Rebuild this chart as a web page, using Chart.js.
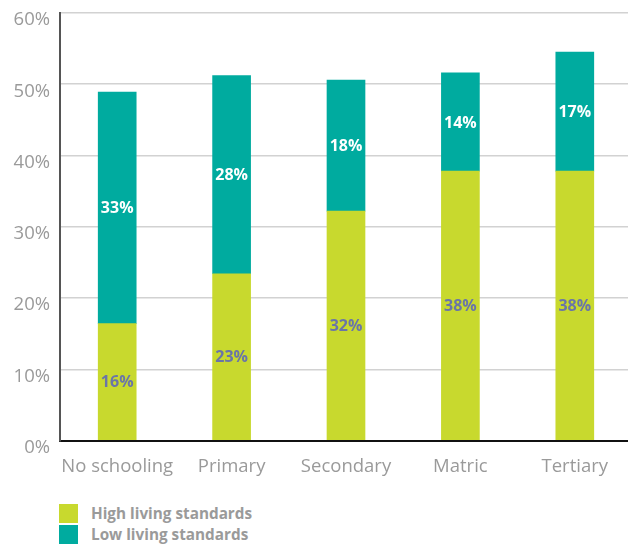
<!DOCTYPE html>
<html>
<head>
<meta charset="utf-8">
<script src="https://cdn.jsdelivr.net/npm/chart.js@4/dist/chart.umd.min.js"></script>
<style>
  html, body { margin: 0; padding: 0; background: #fff; overflow: hidden; width: 628px; height: 544px; }
  #wrap { position: relative; width: 628px; height: 544px; }
  #chart { position: absolute; left: 0; top: 0; }
  .legend { position: absolute; left: 59px; font-family: "Open Sans", sans-serif; font-weight: bold; font-size: 15.3px; color: #9a9a9a; }
  .legend div { position: relative; height: 21px; line-height: 21px; padding-left: 32px; }
  .legend span { position: absolute; left: 0; top: 1px; width: 19px; height: 19px; }
</style>
</head>
<body>
<div id="wrap">
  <canvas id="chart" width="632" height="490"></canvas>
  <div class="legend" style="top:503px">
    <div><span style="background:#c8d92e"></span>High living standards</div>
    <div><span style="background:#00ab9f"></span>Low living standards</div>
  </div>
</div>
<script>
var categories = ['No schooling', 'Primary', 'Secondary', 'Matric', 'Tertiary'];
var highLiving = [16.4, 23.4, 32.2, 37.8, 37.8];
var lowLiving = [32.5, 27.8, 18.4, 13.8, 16.7];
var yTicks = [0, 10, 20, 30, 40, 50, 60];

var greenCol = '#c8d92e';
var tealCol = '#00ab9f';

// draw the % values in the middle of each segment
var segmentLabels = {
    id: 'segmentLabels',
    afterDatasetsDraw: function(chart){
        var ctx = chart.ctx;
        ctx.save();
        ctx.font = 'bold 16px "Open Sans"';
        ctx.textAlign = 'center';
        ctx.textBaseline = 'middle';
        chart.data.datasets.forEach(function(ds, i){
            var meta = chart.getDatasetMeta(i);
            ctx.fillStyle = i === 0 ? '#6a75a8' : '#ffffff';
            meta.data.forEach(function(bar, j){
                var y = (bar.y + bar.base) / 2;
                ctx.fillText(Math.round(ds.data[j]) + '%', bar.x, y + 1);
            });
        });
        ctx.restore();
    }
};

var chart = new Chart(document.getElementById('chart').getContext('2d'), {
    type: 'bar',
    data: {
        labels: categories,
        datasets: [
            {label: 'High living standards', data: highLiving, backgroundColor: greenCol, barThickness: 38},
            {label: 'Low living standards', data: lowLiving, backgroundColor: tealCol, barThickness: 38}
        ]
    },
    options: {
        responsive: false,
        animation: false,
        layout: {padding: {top: 13, right: 0, bottom: 0, left: 0}},
        plugins: {legend: {display: false}, tooltip: {enabled: false}},
        scales: {
            x: {
                stacked: true,
                grid: {display: false, drawTicks: false},
                border: {color: '#111', width: 2},
                ticks: {color: '#9a9a9a', font: {family: 'Open Sans', size: 18.5}, padding: 15,
                        maxRotation: 0, minRotation: 0, autoSkip: false},
                afterFit: function(scale){
                    scale.height = 49.5;
                    scale.paddingLeft = 0;
                    scale.paddingRight = 0;
                }
            },
            y: {
                stacked: true,
                min: 0,
                max: 60,
                afterBuildTicks: function(scale){
                    scale.ticks = yTicks.map(function(v){ return {value: v}; });
                },
                grid: {color: '#d2d2d2', lineWidth: 1.5, drawTicks: false},
                border: {color: '#555', width: 2},
                ticks: {
                    color: '#9a9a9a',
                    font: {family: 'Open Sans', size: 18.5},
                    padding: 10,
                    labelOffset: 7,
                    callback: function(v){ return v + '%'; }
                },
                afterFit: function(scale){
                    scale.width = 60;
                    scale.paddingTop = 0;
                    scale.paddingBottom = 0;
                }
            }
        }
    },
    plugins: [segmentLabels]
});
</script>
</body>
</html>
